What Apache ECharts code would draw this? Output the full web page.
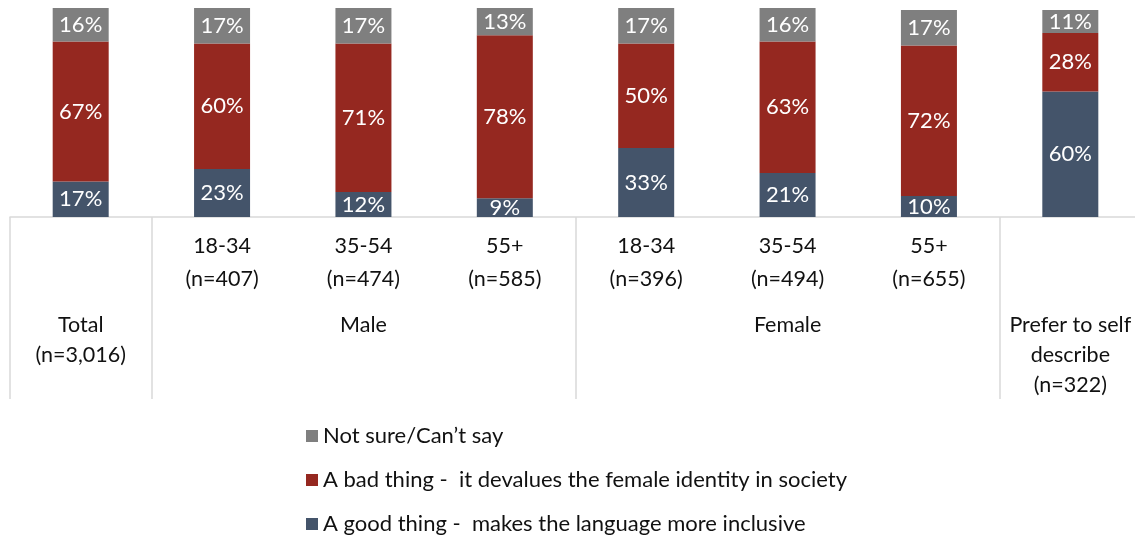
<!DOCTYPE html>
<html>
<head>
<meta charset="utf-8">
<script src="https://cdn.jsdelivr.net/npm/echarts@6/dist/echarts.min.js"></script>
<style>
  html, body { margin: 0; padding: 0; background: #ffffff; }
  #chart { width: 1135px; height: 538px; }
</style>
</head>
<body>
<div id="chart"></div>
<script>
// Categories: one bar per respondent group
const categories = ['total', 'm1834', 'm3554', 'm55', 'f1834', 'f3554', 'f55', 'self'];
// Age / sample size labels shown directly under each bar
const ageLabels = ['', '18-34\n(n=407)', '35-54\n(n=474)', '55+\n(n=585)',
                   '18-34\n(n=396)', '35-54\n(n=494)', '55+\n(n=655)', ''];
// Group labels shown on the second row (centred over their group)
const groupLabels = ['Total\n(n=3,016)', '', 'Male', '', '', 'Female', '', 'Prefer to self\ndescribe\n(n=322)'];
// Indices of the categories that start a new group (separator lines)
const groupStarts = [0, 1, 4, 7];

// Series values (%)
const goodThing = [17, 23, 12, 9, 33, 21, 10, 60];
const badThing  = [67, 60, 71, 78, 50, 63, 72, 28];
const notSure   = [16, 17, 17, 13, 17, 16, 17, 11];

const seriesNames = {
  good: 'A good thing -  makes the language more inclusive',
  bad: 'A bad thing -  it devalues the female identity in society',
  unsure: 'Not sure/Can\u2019t say'
};

const FONT = 'Lato';
const TEXT_COLOR = '#111111';
const chart = echarts.init(document.getElementById('chart'), null, { renderer: 'canvas' });

function barSeries(name, data, color) {
  return {
    name: name,
    type: 'bar',
    stack: 'total',
    data: data,
    barWidth: 56,
    itemStyle: { color: color },
    label: {
      show: true,
      position: 'inside',
      color: '#ffffff',
      fontFamily: FONT,
      fontSize: 22,
      formatter: p => p.value + '%'
    }
  };
}

chart.setOption({
  animation: false,
  backgroundColor: '#ffffff',
  grid: { left: 10, top: 8, width: 1131, height: 209, outerBoundsMode: 'none' },
  legend: {
    orient: 'vertical',
    left: 306,
    top: 425,
    height: 112,
    padding: 0,
    itemWidth: 12,
    itemHeight: 12,
    itemGap: 22,
    icon: 'rect',
    data: [seriesNames.unsure, seriesNames.bad, seriesNames.good],
    textStyle: { fontFamily: FONT, fontSize: 22, lineHeight: 22, color: TEXT_COLOR }
  },
  xAxis: [
    {
      type: 'category',
      data: categories,
      position: 'bottom',
      axisLine: { show: false },
      axisTick: { show: false },
      axisLabel: {
        interval: 0,
        margin: 13,
        fontFamily: FONT,
        fontSize: 21.5,
        lineHeight: 33,
        color: TEXT_COLOR,
        formatter: (v, i) => ageLabels[i]
      }
    },
    {
      type: 'category',
      data: categories,
      position: 'bottom',
      axisLine: { show: true, lineStyle: { color: '#d9d9d9', width: 1.5 } },
      axisTick: {
        show: true,
        interval: (i) => groupStarts.indexOf(i) !== -1,
        length: 182,
        lineStyle: { color: '#d9d9d9', width: 1.5 }
      },
      axisLabel: {
        interval: 0,
        margin: 93,
        fontFamily: FONT,
        fontSize: 21.5,
        lineHeight: 30,
        color: TEXT_COLOR,
        formatter: (v, i) => groupLabels[i]
      }
    }
  ],
  yAxis: {
    type: 'value',
    min: 0,
    max: 100,
    show: false,
    splitLine: { show: false }
  },
  series: [
    barSeries(seriesNames.good, goodThing, '#44546a'),
    barSeries(seriesNames.bad, badThing, '#952820'),
    barSeries(seriesNames.unsure, notSure, '#7f7f7f')
  ]
});
</script>
</body>
</html>
